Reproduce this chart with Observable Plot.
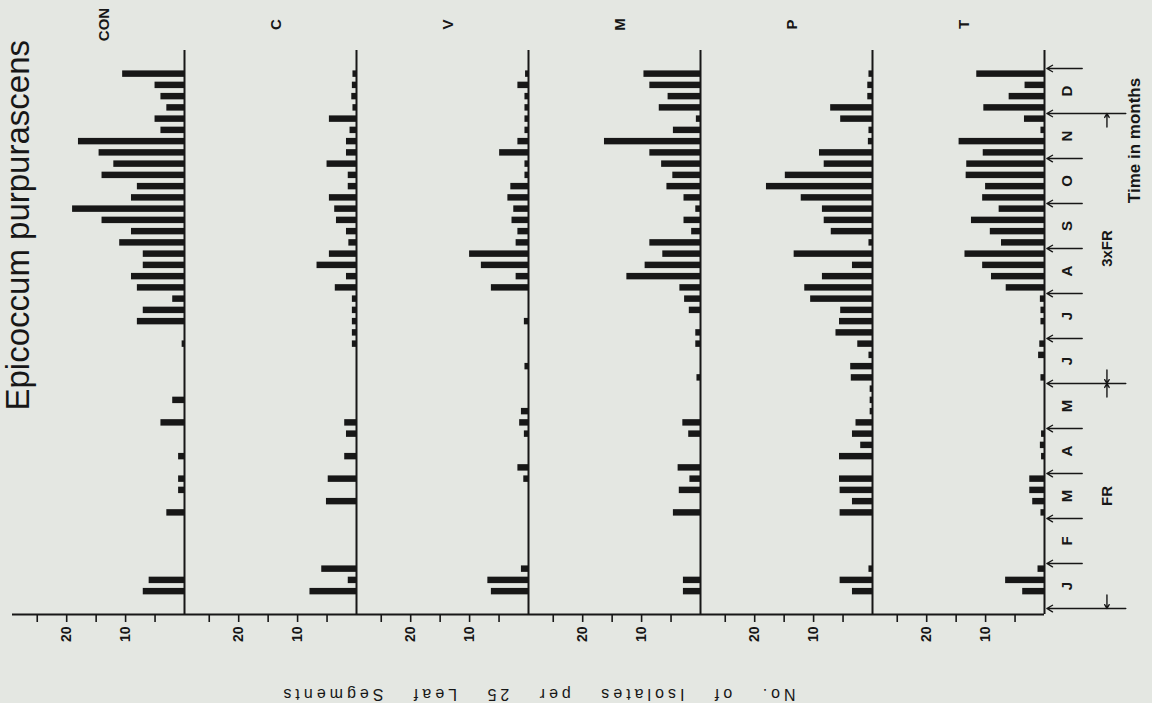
<!DOCTYPE html>
<html>
<head>
<meta charset="utf-8">
<script src="https://cdn.jsdelivr.net/npm/d3@7"></script>
<script src="https://cdn.jsdelivr.net/npm/@observablehq/plot@0.6"></script>
<style>
  html, body { margin: 0; padding: 0; background: #e4e7e2; }
  #chart { width: 1152px; height: 703px; overflow: hidden; }
</style>
</head>
<body>
<div id="chart"></div>
<script>
// ---------- data ----------
const title = "Epicoccum purpurascens";
const valueLabel = "No. of Isolates per 25 Leaf Segments";
const timeLabel = "Time in months";
const panels = ["CON", "C", "V", "M", "P", "T"];
const monthLetters = ["J", "F", "M", "A", "M", "J", "J", "A", "S", "O", "N", "D"];
const valueTicks = [5, 10, 15, 20, 25];
const labelledTicks = [10, 20];
// four samples per month, January (index 0) to December (index 47)
const CON = [0, 7, 6, 0, 0, 0, 0, 0, 3, 0, 1, 1, 0, 1, 0, 0, 4, 0, 2, 0, 0, 0, 0, 0.4,
             0, 8, 7, 2, 8, 9, 7, 7, 11, 9, 14, 19, 9, 8, 14, 12, 14.5, 18, 4, 5, 3, 4, 5, 10.5];
const C   = [0, 7.9, 1.4, 5.9, 0, 0, 0, 0, 0, 5.1, 0, 4.8, 0, 2, 0, 1.7, 2, 0, 0, 0, 0, 0, 0, 0.7,
             0.7, 0.7, 0.7, 0.7, 3.6, 1.7, 6.7, 4.6, 1.3, 1.7, 3.4, 3.7, 4.6, 1.4, 1.4, 5, 1.7, 1.7, 1.1, 4.6, 0.6, 0.8, 0.7, 0.6];
const V   = [0, 6.3, 6.9, 1.2, 0, 0, 0, 0, 0, 0, 0, 0.8, 1.8, 0, 0, 0.7, 1.5, 1.2, 0, 0, 0, 0.6, 0, 0,
             0, 0.7, 0, 0, 6.3, 2.1, 8, 10, 2.1, 1.8, 2.8, 2.5, 3.5, 3, 0.6, 0.6, 4.9, 1.8, 0.6, 0.6, 0.6, 0.6, 1.8, 0.5];
const M   = [0, 2.9, 2.9, 0, 0, 0, 0, 0, 4.6, 0, 3.6, 1.8, 3.8, 0, 0, 2, 3, 0, 0, 0, 0.6, 0, 0, 0.8,
             0.8, 0, 1.9, 2.7, 3.5, 12.5, 9.4, 6.4, 8.6, 1.5, 2.8, 0.8, 2.8, 5.7, 4.7, 6.6, 8.6, 16.3, 4.6, 0.7, 7, 5.5, 8.6, 9.6];
const P   = [0, 3.4, 5.5, 0.6, 0, 0, 0, 0, 5.5, 3.4, 5.5, 5.6, 0, 5.6, 2, 3.4, 2.8, 0.4, 0.4, 0.4, 3.6, 3.7, 0.6, 2.5,
             6.2, 5.6, 5.4, 10.5, 11.5, 8.5, 3.4, 13.3, 0.6, 7, 8.2, 8.5, 12.1, 18, 14.8, 8.2, 9, 0.7, 0.6, 5.4, 7.1, 0.8, 0.8, 0.6];
const T   = [0, 3.7, 6.6, 1.1, 0, 0, 0, 0, 0.6, 2, 2.5, 2.5, 0, 0.5, 0.7, 0.5, 0, 0, 0, 0, 0.6, 0, 1, 0.8,
             0, 0.6, 0.6, 0.7, 6.5, 9, 10.5, 13.5, 7.3, 9.2, 12.4, 7.7, 10.5, 10, 13.3, 13.2, 10.4, 14.5, 0.6, 3.4, 10.3, 6, 3.3, 11.5];
// treatment periods (in months from 1 January)
const treatments = [
  {name: "FR", start: 0, end: 5},
  {name: "3xFR", start: 5, end: 11}
];

// ---------- build table ----------
const seriesByPanel = {CON, C, V, M, P, T};
const rows = panels.flatMap(p => seriesByPanel[p].map((v, i) => ({panel: p, slot: i, value: v})))
                   .filter(d => d.value > 0);
const boundaries = d3.range(monthLetters.length + 1);
const treatmentEnds = Array.from(new Set(treatments.flatMap(t => [t.start, t.end])));
const treatmentArrows = treatments.flatMap(t => [
  {from: t.start + 0.3, to: t.start},
  {from: t.end - 0.3, to: t.end}
]);

const ink = "#171717";
const yDomain = [-0.133, 12.4];
const lastPanel = () => panels[panels.length - 1];

const chart = Plot.plot({
  width: 1152,
  height: 703,
  marginLeft: 11,
  marginRight: 107,
  marginTop: 50,
  marginBottom: 89,
  style: {background: "transparent", color: ink, fontFamily: "'Liberation Sans', Arial, sans-serif"},
  fx: {domain: panels, padding: 0, axis: null},
  x: {domain: [29.2, 0]},
  y: {type: "linear", domain: yDomain, axis: null},
  marks: [
    Plot.rect(rows, {
      fx: "panel",
      x1: 0,
      x2: "value",
      y1: d => d.slot / 4,
      y2: d => (d.slot + 1) / 4,
      insetTop: 2.4,
      insetBottom: 2.4,
      fill: ink
    }),
    Plot.ruleX([0], {stroke: ink, strokeWidth: 2}),
    Plot.ruleY([yDomain[0]], {stroke: ink, strokeWidth: 2}),
    Plot.axisX({
      anchor: "bottom",
      ticks: valueTicks,
      tickSize: 8,
      tickPadding: 4,
      tickRotate: -90,
      tickFormat: d => labelledTicks.includes(d) ? String(d) : "",
      fontSize: 14,
      fontWeight: "bold",
      strokeWidth: 1.6,
      label: null
    }),
    // panel names
    Plot.text(panels, {
      fx: d => d, text: d => d, frameAnchor: "top", dy: -26, rotate: -90,
      textAnchor: "middle", fontSize: 15, fontWeight: "bold", fill: ink
    }),
    // month boundary arrows
    Plot.arrow(boundaries, {
      fx: lastPanel,
      x1: d => treatmentEnds.includes(d) ? -13.8 : -6.4,
      x2: -0.4,
      y1: d => d,
      y2: d => d,
      stroke: ink, strokeWidth: 1.4, headLength: 7
    }),
    // month letters
    Plot.text(monthLetters, {
      fx: lastPanel, y: (d, i) => i + 0.5, text: d => d,
      frameAnchor: "right", dx: 23, rotate: -90, textAnchor: "middle",
      fontSize: 15, fontWeight: "bold", fill: ink
    }),
    // treatment period arrowheads
    Plot.arrow(treatmentArrows, {
      fx: lastPanel, x1: -10.6, x2: -10.6, y1: "from", y2: "to",
      stroke: ink, strokeWidth: 1.4, headLength: 8
    }),
    Plot.text(treatments, {
      fx: lastPanel, x: -10.6, y: d => (d.start + d.end) / 2, text: "name",
      rotate: -90, textAnchor: "middle", fontSize: 15, fontWeight: "bold", fill: ink
    }),
    Plot.text([timeLabel], {
      fx: lastPanel, x: -15.3, y: 10.4, text: d => d,
      rotate: -90, textAnchor: "middle", fontSize: 17, fontWeight: "bold", fill: ink
    }),
    // value axis label (upside down, as in the scanned page)
    Plot.text([valueLabel], {
      fx: () => "M", text: d => d, frameAnchor: "bottom-left", dx: 9, dy: 74,
      rotate: 180, textAnchor: "middle", fontSize: 16, fill: ink
    }),
    // title
    Plot.text([title], {
      fx: () => "CON", text: d => d, frameAnchor: "bottom-left", dx: 16, dy: -204,
      rotate: -90, textAnchor: "start", lineAnchor: "bottom", fontSize: 33, fill: ink
    })
  ]
});

// spaced lettering of the value-axis label, as on the original page
d3.select(chart).selectAll("text")
  .filter(function() { return this.textContent === valueLabel; })
  .style("letter-spacing", "4px")
  .style("word-spacing", "18px");

document.getElementById("chart").appendChild(chart);
</script>
</body>
</html>
